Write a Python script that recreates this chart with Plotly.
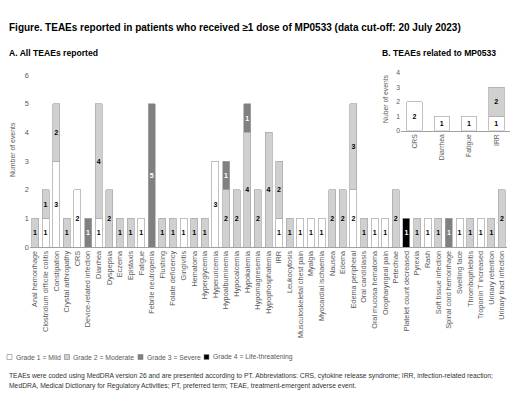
import plotly.graph_objects as go

W, H = 520, 399

categories = [
    "Anal hemorrhage", "Clostridium difficile colitis", "Constipation", "Crystal arthropathy", "CRS",
    "Device-related infection", "Diarrhea", "Dyspepsia", "Eczema", "Epistaxis", "Fatigue",
    "Febrile neutropenia", "Flushing", "Folate deficiency", "Gingivitis", "Hematoma", "Hyperglycemia",
    "Hyperuricemia", "Hypoalbuminemia", "Hypocalcemia", "Hypokalemia", "Hypomagnesemia",
    "Hypophosphatemia", "IRR", "Leukocytosis", "Musculoskeletal chest pain", "Myalgia",
    "Myocardial ischaemia", "Nausea", "Edema", "Edema peripheral", "Oral candidiasis",
    "Oral mucosa hematoma", "Oropharyngeal pain", "Petechiae", "Platelet count decreased", "Pyrexia",
    "Rash", "Soft tissue infection", "Spinal cord hemorrhage", "Swelling face", "Thrombophlebitis",
    "Troponin T increased", "Urinary retention", "Urinary tract infection",
]
grade1 = [0, 1, 3, 0, 2, 0, 1, 0, 0, 0, 1, 0, 0, 0, 1, 0, 0, 3, 0, 0, 0, 0, 0, 1, 0, 1, 1, 1, 0, 0,
          2, 0, 1, 1, 0, 0, 0, 1, 0, 0, 1, 0, 1, 0, 0]
grade2 = [1, 1, 2, 1, 0, 0, 4, 2, 1, 1, 0, 0, 1, 1, 0, 1, 1, 0, 2, 2, 4, 2, 4, 2, 1, 0, 0, 0, 2, 2,
          3, 1, 0, 0, 2, 0, 1, 0, 1, 0, 0, 1, 0, 1, 2]
grade3 = [0, 0, 0, 0, 0, 1, 0, 0, 0, 0, 0, 5, 0, 0, 0, 0, 0, 0, 1, 0, 1, 0, 0, 0, 0, 0, 0, 0, 0, 0,
          0, 0, 0, 0, 0, 0, 0, 0, 0, 1, 0, 0, 0, 0, 0]
grade4 = [0, 0, 0, 0, 0, 0, 0, 0, 0, 0, 0, 0, 0, 0, 0, 0, 0, 0, 0, 0, 0, 0, 0, 0, 0, 0, 0, 0, 0, 0,
          0, 0, 0, 0, 0, 1, 0, 0, 0, 0, 0, 0, 0, 0, 0]

related_categories = ["CRS", "Diarrhea", "Fatigue", "IRR"]
related_grade1 = [2, 1, 1, 1]
related_grade2 = [0, 0, 0, 2]

grade_names = ["Grade 1 = Mild", "Grade 2 = Moderate", "Grade 3 = Severe", "Grade 4 = Life-threatening"]
fills = ["#ffffff", "#d0d0d0", "#808080", "#000000"]
text_colors = ["#000000", "#000000", "#ffffff", "#ffffff"]
line_col = "#a6a6a6"
FONT = "Liberation Sans"

def px(x):
    return x / W

def py(y):
    return 1 - y / H

fig = go.Figure()

def add_bars(cats, series, xa, ya, width=None):
    for i, vals in enumerate(series):
        fig.add_trace(go.Bar(
            x=cats, y=[v if v else None for v in vals],
            text=[str(v) if v else "" for v in vals],
            textposition="inside", insidetextanchor="middle", textangle=0,
            constraintext="none", width=width,
            textfont=dict(family=FONT, size=7, color=text_colors[i], weight="bold"),
            marker=dict(color=fills[i], line=dict(color=line_col, width=0.7)),
            name=grade_names[i], showlegend=False, xaxis=xa, yaxis=ya,
            hoverinfo="skip",
        ))

add_bars(categories, [grade1, grade2, grade3, grade4], "x", "y")
add_bars(related_categories, [related_grade1, related_grade2], "x2", "y2", width=0.56)

tickfont = dict(family=FONT, size=7.3, color="#595959")
tickfont2 = dict(family=FONT, size=6.8, color="#595959")

fig.update_layout(
    width=W, height=H, barmode="stack",
    margin=dict(l=0, r=0, t=0, b=0, autoexpand=False),
    paper_bgcolor="white", plot_bgcolor="white",
    bargap=0.34,
    xaxis=dict(domain=[px(29.7), px(507.3)], anchor="y", tickangle=-90, tickfont=tickfont,
               showline=True, linecolor="#a0a0a0", linewidth=1, showgrid=False, ticks="",
               automargin=False, categoryorder="array", categoryarray=categories),
    yaxis=dict(domain=[py(247), py(75)], anchor="x", range=[0, 6], dtick=1, tickfont=tickfont,
               showgrid=False, zeroline=False, showline=False, ticks="", automargin=False),
    xaxis2=dict(domain=[px(401), px(510)], anchor="y2", tickangle=-90, tickfont=tickfont2,
                showline=True, linecolor="#a0a0a0", linewidth=1, showgrid=False, ticks="",
                automargin=False),
    yaxis2=dict(domain=[py(130.5), py(73)], anchor="x2", range=[0, 4], dtick=1, tickfont=tickfont2,
                showgrid=False, zeroline=False, showline=False, ticks="", automargin=False),
)

ann = []
ann.append(dict(x=px(7), y=py(27), xref="paper", yref="paper", xanchor="left", yanchor="middle",
                text="<b>Figure. TEAEs reported in patients who received ≥1 dose of MP0533 (data cut-off: 20 July 2023)</b>",
                showarrow=False, font=dict(family=FONT, size=10, color="#000000")))
ann.append(dict(x=px(7), y=py(53), xref="paper", yref="paper", xanchor="left", yanchor="middle",
                text="<b>A. All TEAEs reported</b>", showarrow=False,
                font=dict(family=FONT, size=8.6, color="#000000")))
ann.append(dict(x=px(380), y=py(53), xref="paper", yref="paper", xanchor="left", yanchor="middle",
                text="<b>B. TEAEs related to MP0533</b>", showarrow=False,
                font=dict(family=FONT, size=8.6, color="#000000")))
ann.append(dict(x=px(12), y=py(150), xref="paper", yref="paper", xanchor="center", yanchor="middle",
                text="Number of events", textangle=-90, showarrow=False,
                font=dict(family=FONT, size=6.9, color="#595959")))
ann.append(dict(x=px(385), y=py(99), xref="paper", yref="paper", xanchor="center", yanchor="middle",
                text="Nuber of events", textangle=-90, showarrow=False,
                font=dict(family=FONT, size=6.8, color="#595959")))

# legend drawn manually (squares + labels)
leg_x = [7, 64.5, 138, 204]
shapes = []
for i, name in enumerate(grade_names):
    x0 = leg_x[i]
    shapes.append(dict(type="rect", xref="paper", yref="paper",
                       x0=px(x0), x1=px(x0 + 5), y0=py(359.5), y1=py(354.5),
                       fillcolor=fills[i], line=dict(color="#808080", width=0.6)))
    ann.append(dict(x=px(x0 + 6.5), y=py(357), xref="paper", yref="paper", xanchor="left", yanchor="middle",
                    text=name, showarrow=False, font=dict(family=FONT, size=6.8, color="#595959")))

foot1 = ("TEAEs were coded using MedDRA version 26 and are presented according to PT. Abbreviations: CRS, "
         "cytokine release syndrome; IRR, infection-related reaction;")
foot2 = "MedDRA, Medical Dictionary for Regulatory Activities; PT, preferred term; TEAE, treatment-emergent adverse event."
ann.append(dict(x=px(7), y=py(376), xref="paper", yref="paper", xanchor="left", yanchor="middle",
                text=foot1, showarrow=False, font=dict(family=FONT, size=6.75, color="#333333")))
ann.append(dict(x=px(7), y=py(386), xref="paper", yref="paper", xanchor="left", yanchor="middle",
                text=foot2, showarrow=False, font=dict(family=FONT, size=6.75, color="#333333")))

fig.update_layout(annotations=ann, shapes=shapes)
fig.write_html("out.html", config={"displayModeBar": False},
               post_script="document.body.style.margin='0';")
